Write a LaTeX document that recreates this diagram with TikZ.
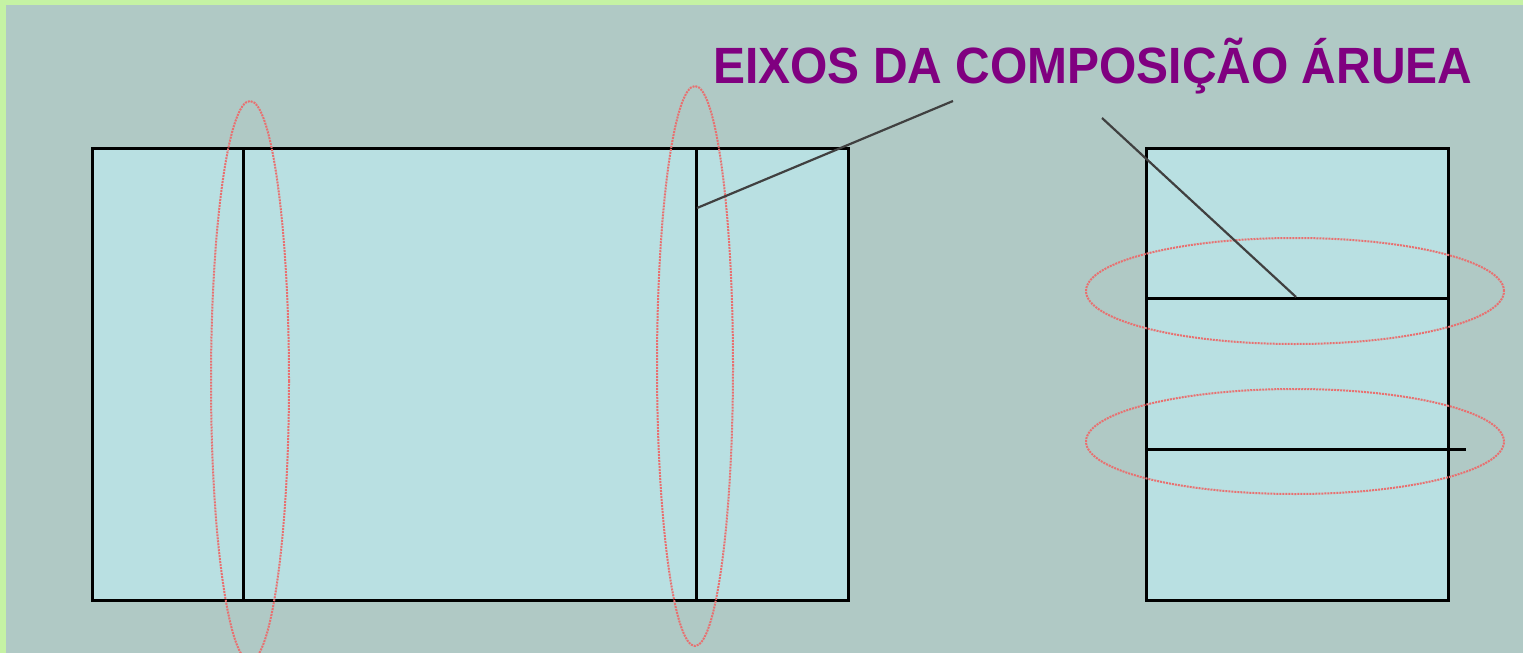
\documentclass[tikz,border=0pt]{standalone}
\usepackage{fontspec}
\setmainfont{Liberation Sans}
\usetikzlibrary{shapes.geometric}
\definecolor{edgegreen}{RGB}{197,242,164}
\definecolor{bggray}{RGB}{176,201,197}
\definecolor{boxfill}{RGB}{185,224,226}
\definecolor{titlepurple}{RGB}{128,0,128}
\definecolor{ringred}{RGB}{232,112,112}
\begin{document}
\begin{tikzpicture}[x=1pt,y=-1pt,
  panel/.style={draw=black,line width=3pt,fill=boxfill,inner sep=0pt,outer sep=0pt,anchor=north west},
  axisline/.style={draw=black,line width=3pt},
  ring/.style={draw=ringred,line width=2pt,dash pattern=on 2pt off 1pt,ellipse,inner sep=0pt,outer sep=0pt},
  pointer/.style={draw=black!75,line width=2.2pt}]
\useasboundingbox (0,0) rectangle (1523,653);
\fill[edgegreen] (0,0) rectangle (1523,653);
\fill[bggray] (6,5) rectangle (1523,653);
% panels
\node[panel, minimum width=756pt, minimum height=452pt] (leftbox) at (92,148) {};
\node[panel, minimum width=302pt, minimum height=452pt] (rightbox) at (1146,148) {};
% axes in left panel
\coordinate (v1t) at (243,148); \coordinate (v1b) at (243,600);
\coordinate (v2t) at (696,148); \coordinate (v2b) at (696,600);
\draw[axisline] (v1t) -- (v1b);
\draw[axisline] (v2t) -- (v2b);
% axes in right panel
\coordinate (h1l) at (1146,298); \coordinate (h1r) at (1448,298);
\coordinate (h2l) at (1146,449); \coordinate (h2r) at (1466,449);
\draw[axisline] (h1l) -- (h1r);
\draw[axisline] (h2l) -- (h2r);
% rings
\node[ring, minimum width=78pt, minimum height=560pt] (ring1) at (250,381) {};
\node[ring, minimum width=76pt, minimum height=560pt] (ring2) at (695,366) {};
\node[ring, minimum width=418pt, minimum height=106pt] (ring3) at (1295,291) {};
\node[ring, minimum width=418pt, minimum height=105pt] (ring4) at (1295,441.5) {};
% title
\node[text=titlepurple, font=\bfseries\fontsize{51}{60}\selectfont, anchor=base west, inner sep=0pt] (title) at (713,83) {\scalebox{0.94}[1]{EIXOS DA COMPOSIÇÃO ÁRUEA}};
% pointers
\coordinate (p1a) at (697,208); \coordinate (p1b) at (953,101);
\coordinate (p2a) at (1102,118); \coordinate (p2b) at (1296,297);
\draw[pointer] (p1a) -- (p1b);
\draw[pointer] (p2a) -- (p2b);
\end{tikzpicture}
\end{document}
